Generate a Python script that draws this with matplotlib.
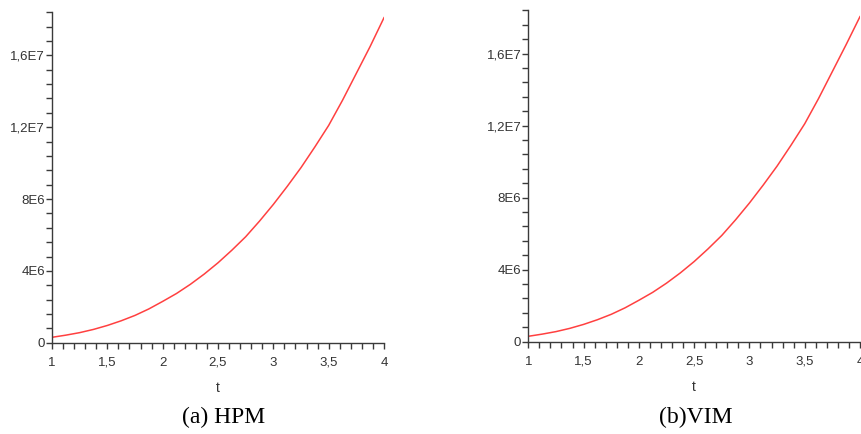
import matplotlib.pyplot as plt
from matplotlib.ticker import MultipleLocator, FixedLocator, FixedFormatter

# values (curve, in units of 1E6)
t = [1.0, 1.125, 1.25, 1.375, 1.5, 1.625, 1.75, 1.875, 2.0, 2.125, 2.25, 2.375, 2.5,
     2.625, 2.75, 2.875, 3.0, 3.125, 3.25, 3.375, 3.5, 3.625, 3.75, 3.875, 4.0]
hpm = [0.30, 0.42, 0.56, 0.74, 0.96, 1.22, 1.52, 1.88, 2.30, 2.74, 3.25, 3.82, 4.45,
       5.15, 5.90, 6.77, 7.70, 8.70, 9.75, 10.9, 12.1, 13.5, 15.0, 16.5, 18.1]
vim = [0.30, 0.42, 0.56, 0.74, 0.96, 1.22, 1.52, 1.88, 2.30, 2.74, 3.25, 3.82, 4.45,
       5.15, 5.90, 6.77, 7.70, 8.70, 9.75, 10.9, 12.1, 13.5, 15.0, 16.5, 18.05]

xticks = [1, 1.5, 2, 2.5, 3, 3.5, 4]
xlabels = ['1', '1,5', '2', '2,5', '3', '3,5', '4']
yticks = [0, 4e6, 8e6, 1.2e7, 1.6e7]
ylabels = ['0', '4E6', '8E6', '1,2E7', '1,6E7']
captions = ['(a) HPM', '(b)VIM']

W, H = 861, 434
fig = plt.figure(figsize=(W / 100, H / 100), dpi=100)

# axes boxes in pixels: left, right, top, bottom
boxes = [(52, 384, 12.3, 342.7), (528.3, 860, 10.3, 341.7)]
caption_x = [224, 696]

grey = '#3a3a3a'
for (l, r, tp, b), data, cap, cx in zip(boxes, [hpm, vim], captions, caption_x):
    ax = fig.add_axes([l / W, (H - b) / H, (r - l) / W, (b - tp) / H])
    ax.plot(t, [v * 1e6 for v in data], color='#ff4040', lw=1.1)
    ax.set_xlim(1, 4)
    ax.set_ylim(0, 1.84e7)
    for s in ['top', 'right']:
        ax.spines[s].set_visible(False)
    for s in ['left', 'bottom']:
        ax.spines[s].set_color(grey)
        ax.spines[s].set_linewidth(1.0)
    ax.xaxis.set_major_locator(FixedLocator(xticks))
    ax.xaxis.set_major_formatter(FixedFormatter(xlabels))
    ax.xaxis.set_minor_locator(MultipleLocator(0.1))
    ax.yaxis.set_major_locator(FixedLocator(yticks))
    ax.yaxis.set_major_formatter(FixedFormatter(ylabels))
    ax.yaxis.set_minor_locator(MultipleLocator(8e5))
    ax.tick_params(which='both', direction='out', color=grey, width=1.0, length=4,
                   labelcolor='#333333', labelsize=9.5)
    ax.tick_params(axis='x', which='major', pad=6)
    ax.tick_params(axis='y', which='major', pad=1)
    for lab in ax.get_xticklabels() + ax.get_yticklabels():
        lab.set_fontfamily('Liberation Sans')
    ax.set_xlabel('t', fontsize=10, color='#333333', family='Liberation Sans', labelpad=9)
    fig.text(cx / W, 1 - 417 / H, cap, ha='center', va='center',
             fontsize=17, family='Liberation Serif', color='black')

fig.savefig('out.png', dpi=100)
